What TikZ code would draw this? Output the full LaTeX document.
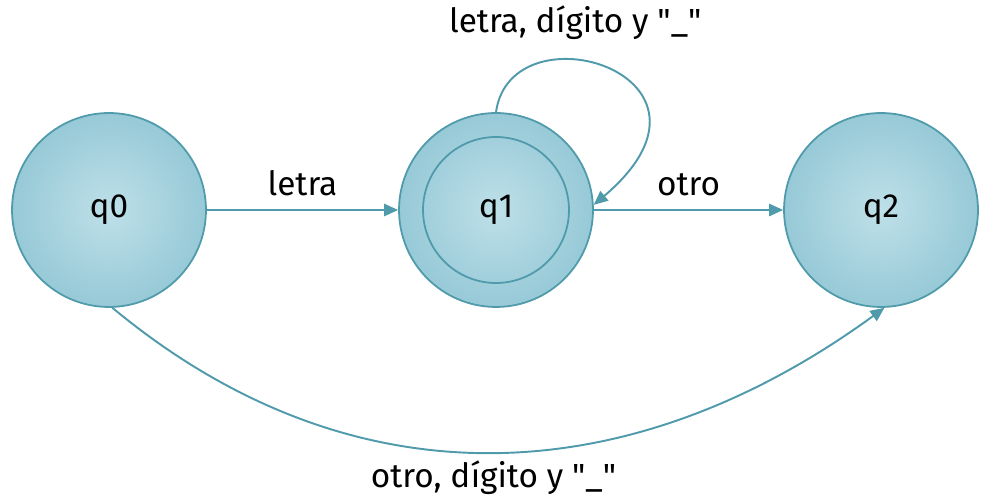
\documentclass[tikz,border=0pt]{standalone}
\usepackage{fontspec}
\setmainfont{Fira Sans}
\usepackage{xcolor}
\usetikzlibrary{positioning, arrows.meta}
\definecolor{afdline}{HTML}{4F9AAB}
\definecolor{afdin}{HTML}{BEE0E9}
\definecolor{afdout}{HTML}{97C9D7}

\tikzset{
  estado/.style={circle, draw=afdline, line width=1pt, shading=radial,
    inner color=afdin, outer color=afdout, minimum size=3.88cm,
    font=\fontsize{19}{22}\selectfont},
  trans/.style={draw=afdline, line width=1.1pt,
    -{Triangle[length=8pt,width=7pt]}},
  etiq/.style={font=\fontsize{19}{22}\selectfont, inner sep=1pt}
}

\begin{document}
\begin{tikzpicture}[x=0.02cm,y=-0.02cm]
  \useasboundingbox (0,0) rectangle (990,502);
  % estados
  \node[estado](q0)at(109,210){q0};
  \node[estado](q1)at(496,210){q1};
  \node[draw=afdline,line width=1pt,circle,minimum size=2.92cm](q1f)at(q1){};
  \node[estado](q2)at(881,210){q2};
  % transiciones
  \draw[trans](q0)--node[etiq,above=0.22cm](tletra){letra}(q1);
  \draw[trans](q1)--node[etiq,above=0.22cm](totro){otro}(q2);
  \draw[trans](q1.north)..controls +(15,-108) and +(153,-130)..
    node[etiq,pos=0.38,above=0.36cm](tbucle){letra, dígito y \textquotedbl\_\textquotedbl}(q1.3);
  \draw[trans](q0.-88)..controls +(241,200) and +(-254,185)..
    node[etiq,pos=0.5,below=0.12cm](tabajo){otro, dígito y \textquotedbl\_\textquotedbl}(q2.-88);
\end{tikzpicture}
\end{document}
